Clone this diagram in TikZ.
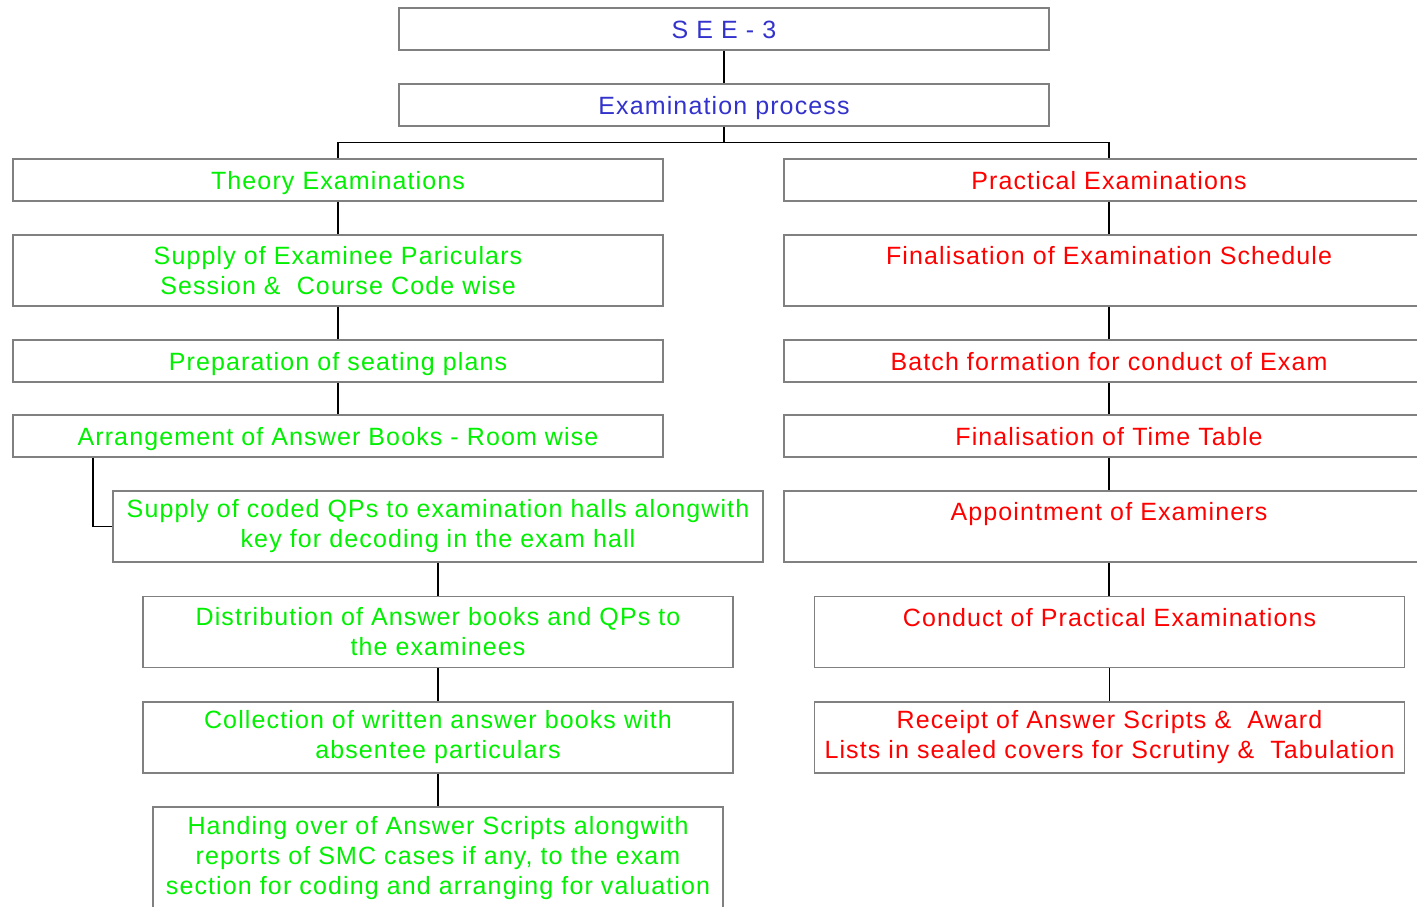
\documentclass[tikz,border=0pt]{standalone}
\usepackage{fontspec}
\setmainfont[LetterSpace=4.5]{Liberation Sans}
\definecolor{boxgray}{RGB}{128,128,128}
\definecolor{txtblue}{RGB}{51,51,204}
\definecolor{txtgreen}{RGB}{0,240,0}
\definecolor{txtred}{RGB}{255,0,0}

\begin{document}
\begin{tikzpicture}[x=1pt,y=-1pt,
    stage/.style ={rectangle, draw=boxgray, line width=1.3pt, inner sep = 0pt, align=center,
                   minimum width=650pt, minimum height=42pt, font=\fontsize{25}{30}\selectfont},
    single/.style ={text height=18pt, text depth=0pt},
    tall/.style ={minimum height=71pt},
    link/.style ={line width=1.3pt, black}]
   \useasboundingbox (0,0) rectangle (1417,906);
   \clip (0,0) rectangle (1417,906);
   \node[stage, single, text=txtblue] (see) at (724,29) {S E E - 3};
   \node[stage, single, text=txtblue] (proc) at (724,105) {Examination process};
   \node[stage, single, text=txtgreen] (th) at (338,180) {Theory Examinations};
   \node[stage, text=txtgreen, tall] (part) at (338,270.5) {Supply of Examinee Pariculars\\Session \&\ \ Course Code wise};
   \node[stage, single, text=txtgreen] (seat) at (338,361) {Preparation of seating plans};
   \node[stage, single, text=txtgreen] (arr) at (338,436) {Arrangement of Answer Books - Room wise};
   \node[stage, text=txtgreen, tall] (qp) at (438,526.5) {Supply of coded QPs to examination halls alongwith\\key for decoding in the exam hall};
   \node[stage, text=txtgreen, tall, minimum width=590pt] (dist) at (438,632) {Distribution of Answer books and QPs to\\the examinees};
   \node[stage, text=txtgreen, tall, minimum width=590pt] (coll) at (438,737.5) {Collection of written answer books with\\absentee particulars};
   \node[stage, text=txtgreen, minimum width=570pt, minimum height=102pt] (hand) at (438,858) {Handing over of Answer Scripts alongwith\\reports of SMC cases if any, to the exam\\section for coding and arranging for valuation};
   \node[stage, single, text=txtred] (pr) at (1109,180) {Practical Examinations};
   \node[stage, text=txtred, tall] (sched) at (1109,270.5) {Finalisation of Examination Schedule\\\mbox{}};
   \node[stage, single, text=txtred] (batch) at (1109,361) {Batch formation for conduct of Exam};
   \node[stage, single, text=txtred] (tt) at (1109,436) {Finalisation of Time Table};
   \node[stage, text=txtred, tall] (appt) at (1109,526.5) {Appointment of Examiners\\\mbox{}};
   \node[stage, text=txtred, tall, minimum width=590pt] (cond) at (1109.5,632) {Conduct of Practical Examinations\\\mbox{}};
   \node[stage, text=txtred, tall, minimum width=590pt] (rec) at (1109.5,737.5) {Receipt of Answer Scripts \&\ \ Award\\Lists in sealed covers for Scrutiny \&\ \ Tabulation};
   \draw[link] (see) -- (proc);
   \draw[link] (th.north) -- ++(0,-16) coordinate (bus) -| (pr.north);
   \draw[link] (proc.south) -- (proc.south |- bus);
   \draw[link] (th) -- (part);
   \draw[link] (part) -- (seat);
   \draw[link] (seat) -- (arr);
   \draw[link] ([xshift=-245pt]arr.south) |- (qp.west);
   \draw[link] (qp) -- (dist);
   \draw[link] (dist) -- (coll);
   \draw[link] (coll) -- (hand);
   \draw[link] (pr) -- (sched);
   \draw[link] (sched) -- (batch);
   \draw[link] (batch) -- (tt);
   \draw[link] (tt) -- (appt);
   \draw[link] (appt.south) -- (appt.south |- cond.north);
   \draw[link] (cond.south) -- (cond.south |- rec.north);
 \end{tikzpicture}
\end{document}
